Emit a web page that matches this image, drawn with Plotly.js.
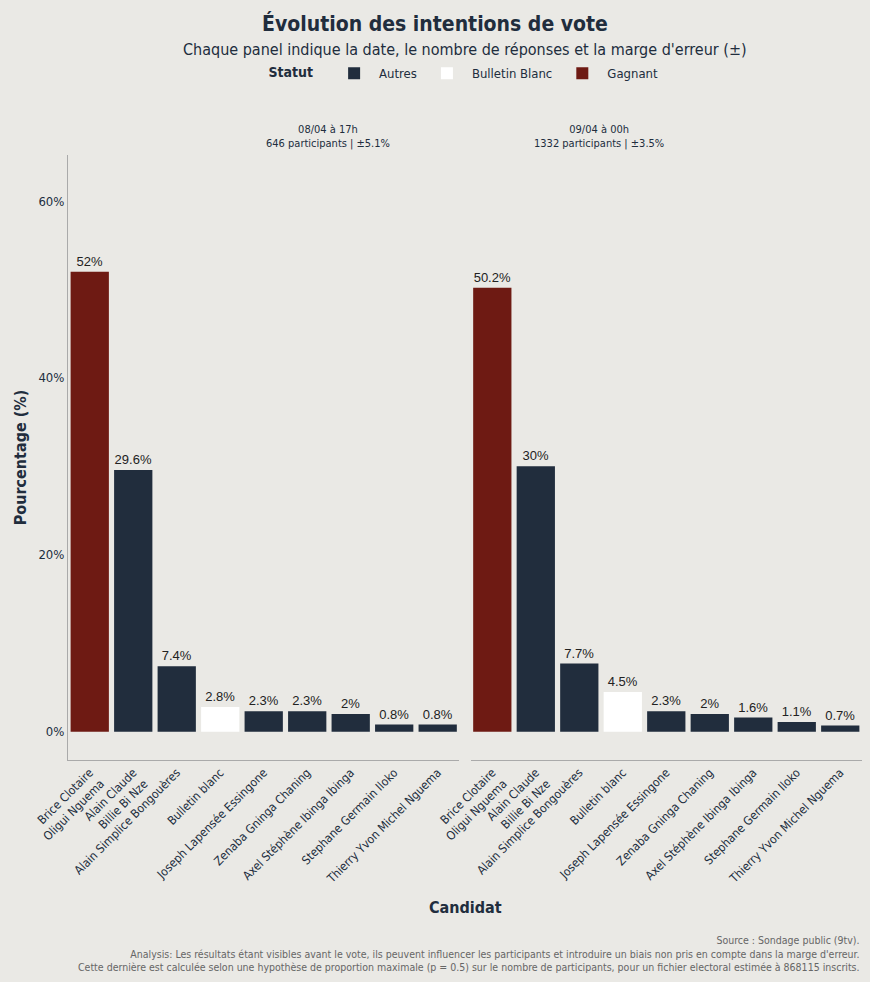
<!DOCTYPE html>
<html>
<head>
<meta charset="utf-8">
<script src="https://cdn.plot.ly/plotly-3.0.1.min.js"></script>
<style>body{margin:0;background:#EAE9E5;}</style>
</head>
<body>
<div id="chart" style="width:870px;height:982px;"></div>
<script>
// candidates in display order (same for both panels)
var candidats = [
    'Brice Clotaire<br>Oligui Nguema', 'Alain Claude<br>Billie Bi Nze', 'Alain Simplice Bongouères',
    'Bulletin blanc', 'Joseph Lapensée Essingone', 'Zenaba Gninga Chaning',
    'Axel Stéphène Ibinga Ibinga', 'Stephane Germain Iloko', 'Thierry Yvon Michel Nguema'
];
var statuts = [ 'Gagnant', 'Autres', 'Autres', 'Bulletin Blanc', 'Autres', 'Autres', 'Autres', 'Autres', 'Autres' ];
var valeurs0804 = [ 52, 29.6, 7.4, 2.8, 2.3, 2.3, 2, 0.8, 0.8 ];
var valeurs0904 = [ 50.2, 30, 7.7, 4.5, 2.3, 2, 1.6, 1.1, 0.7 ];
var panelTitles = [ '08/04 à 17h<br>646 participants | ±5.1%', '09/04 à 00h<br>1332 participants | ±3.5%' ];

var font = 'Liberation Sans Narrow, DejaVu Sans Condensed, sans-serif';
var colors = { 'Autres': '#212D3D', 'Bulletin Blanc': '#FFFFFF', 'Gagnant': '#6E1A13' };
var legendOrder = [ 'Autres', 'Bulletin Blanc', 'Gagnant' ];

var data = [];
[ valeurs0804, valeurs0904 ].forEach(function( vals, p ) {
    legendOrder.forEach(function( st ) {
        var xs = [], ys = [];
        for ( var i = 0; i < candidats.length; i++ ) {
            if ( statuts[ i ] === st ) { xs.push( candidats[ i ] ); ys.push( vals[ i ] ); }
        }
        data.push({
            type: 'bar', x: xs, y: ys, name: st, legendgroup: st, showlegend: p === 0,
            xaxis: p === 0 ? 'x' : 'x2', yaxis: 'y',
            marker: { color: colors[ st ] },
            text: ys.map(function( v ) { return v + '%'; }),
            textposition: 'outside', cliponaxis: false,
            textfont: { family: 'Liberation Sans, Arial', size: 13, color: '#222' },
            hoverinfo: 'x+y'
        });
    });
});

var xcommon = {
    type: 'category', categoryorder: 'array', categoryarray: candidats,
    tickangle: -45, tickfont: { family: font, size: 12, color: '#212D3D' },
    showline: true, linecolor: '#aaa', showgrid: false, ticks: ''
};

var layout = {
    width: 870, height: 982,
    paper_bgcolor: '#EAE9E5', plot_bgcolor: '#EAE9E5',
    margin: { l: 68, r: 8, t: 155, b: 222 },
    bargap: 0.12, barmode: 'group',
    font: { family: font, color: '#212D3D' },
    title: { text: '<b>Évolution des intentions de vote</b>', x: 0.5, xanchor: 'center', y: 0.983, font: { size: 21, family: font } },
    xaxis: Object.assign({ domain: [ 0, 0.493 ], anchor: 'y' }, xcommon),
    xaxis2: Object.assign({ domain: [ 0.507, 1 ], anchor: 'y' }, xcommon),
    yaxis: {
        range: [ -3.2, 65.2 ], tickvals: [ 0, 20, 40, 60 ], ticktext: [ '0%', '20%', '40%', '60%' ],
        showgrid: false, zeroline: false, showline: true, linecolor: '#aaa',
        tickfont: { size: 13, family: font }, ticks: '',
        title: { text: '<b>Pourcentage (%)</b>', font: { size: 16, family: font } }
    },
    legend: {
        orientation: 'h', x: 0.5, xanchor: 'center', y: 1.135, yanchor: 'middle',
        title: { text: '<b>Statut</b>  ', font: { size: 14 } }, font: { size: 13 },
        itemwidth: 40, traceorder: 'normal'
    },
    annotations: [
        { text: 'Chaque panel indique la date, le nombre de réponses et la marge d\'erreur (±)', xref: 'paper', yref: 'paper', x: 0.5, y: 1.175, showarrow: false, font: { size: 16 }, yanchor: 'middle' },
        { text: panelTitles[ 0 ], xref: 'paper', yref: 'paper', x: 0.2465, y: 1.005, yanchor: 'bottom', showarrow: false, font: { size: 11 } },
        { text: panelTitles[ 1 ], xref: 'paper', yref: 'paper', x: 0.7535, y: 1.005, yanchor: 'bottom', showarrow: false, font: { size: 11 } },
        { text: '<b>Candidat</b>', xref: 'paper', yref: 'paper', x: 0.5, y: -0.262, showarrow: false, font: { size: 16 } },
        { text: 'Source : Sondage public (9tv).<br>Analysis: Les résultats étant visibles avant le vote, ils peuvent influencer les participants et introduire un biais non pris en compte dans la marge d\'erreur.<br>Cette dernière est calculée selon une hypothèse de proportion maximale (p = 0.5) sur le nombre de participants, pour un fichier electoral estimée à 868115 inscrits.',
          xref: 'paper', yref: 'paper', x: 1, xanchor: 'right', align: 'right', y: -0.355, yanchor: 'bottom', showarrow: false, font: { size: 10.5, color: '#666' } }
    ]
};

Plotly.newPlot( 'chart', data, layout, { displayModeBar: false } );
</script>
</body>
</html>
